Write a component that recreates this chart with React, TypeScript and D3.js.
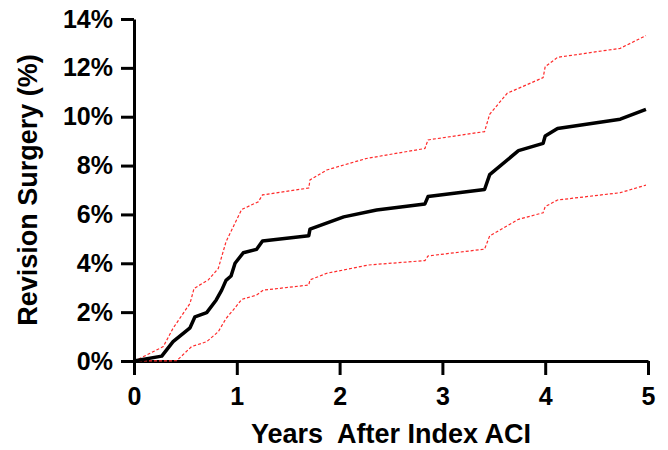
import React, { useEffect, useRef } from 'react';
import * as d3 from 'd3';

// (years, percent)
const estYears = [0, 0.27, 0.38, 0.545, 0.593, 0.707, 0.8, 0.853, 0.895, 0.944, 0.983, 1.063, 1.193, 1.25, 1.7, 1.712, 2.04, 2.36, 2.83, 2.86, 3.41, 3.46, 3.74, 3.98, 4.0, 4.12, 4.73, 4.98];
const estValues = [0, 0.2, 0.79, 1.36, 1.81, 1.98, 2.5, 2.9, 3.3, 3.48, 4.0, 4.43, 4.57, 4.91, 5.13, 5.4, 5.9, 6.18, 6.43, 6.73, 7.02, 7.63, 8.61, 8.91, 9.21, 9.52, 9.9, 10.3];

const upperYears = [0, 0.04, 0.285, 0.38, 0.545, 0.584, 0.723, 0.82, 0.895, 0.966, 1.047, 1.21, 1.25, 1.7, 1.712, 1.875, 2.26, 2.83, 2.86, 3.41, 3.46, 3.63, 3.98, 4.0, 4.12, 4.73, 4.98];
const upperValues = [0, 0.07, 0.59, 1.34, 2.36, 2.97, 3.32, 3.79, 4.88, 5.5, 6.2, 6.52, 6.8, 7.08, 7.41, 7.82, 8.29, 8.7, 9.05, 9.39, 10.1, 10.96, 11.6, 12.05, 12.43, 12.8, 13.32];

const lowerYears = [0, 0.415, 0.56, 0.707, 0.82, 0.895, 0.966, 1.047, 1.193, 1.258, 1.7, 1.712, 1.875, 2.28, 2.83, 2.86, 3.41, 3.46, 3.74, 3.98, 4.0, 4.12, 4.73, 4.98];
const lowerValues = [0, 0.01, 0.59, 0.79, 1.2, 1.74, 2.09, 2.52, 2.7, 2.9, 3.11, 3.32, 3.59, 3.93, 4.11, 4.3, 4.58, 5.12, 5.8, 6.07, 6.32, 6.59, 6.89, 7.2];

const xTicks = [0, 1, 2, 3, 4, 5];
const yTicks = [0, 2, 4, 6, 8, 10, 12, 14];

const FONT = "'Liberation Sans', Arial, sans-serif";

export default function App() {
  const ref = useRef<SVGSVGElement>(null);

  useEffect(() => {
    const svg = d3.select(ref.current);
    svg.selectAll('*').remove();

    const margin = { top: 19, right: 20, bottom: 89, left: 134 };
    const width = 668, height = 450;

    const x = d3.scaleLinear().domain([0, 5]).range([margin.left, width - margin.right]);
    const y = d3.scaleLinear().domain([0, 14]).range([height - margin.bottom, margin.top]);

    const xAxis = svg.append('g')
      .attr('transform', `translate(0, ${y(0)})`)
      .call(d3.axisBottom(x).tickValues(xTicks).tickSize(14).tickSizeOuter(0).tickPadding(12).tickFormat(d3.format('d')));
    const yAxis = svg.append('g')
      .attr('transform', `translate(${x(0)}, 0)`)
      .call(d3.axisLeft(y).tickValues(yTicks).tickSize(13).tickSizeOuter(0).tickPadding(8).tickFormat(d => d + '%'));

    [xAxis, yAxis].forEach(g => {
      g.select('.domain').attr('stroke', '#000').attr('stroke-width', 3);
      g.selectAll('.tick line').attr('stroke', '#000').attr('stroke-width', 3);
      g.selectAll('.tick text')
        .attr('fill', '#000')
        .style('font-family', FONT)
        .style('font-weight', 'bold')
        .style('font-size', '25px');
    });

    const line = d3.line<[number, number]>()
      .x(d => x(d[0]))
      .y(d => y(d[1]));

    const upper = upperYears.map((t, i) => [t, upperValues[i]] as [number, number]);
    const lower = lowerYears.map((t, i) => [t, lowerValues[i]] as [number, number]);
    const est = estYears.map((t, i) => [t, estValues[i]] as [number, number]);

    [upper, lower].forEach(pts => {
      svg.append('path')
        .attr('d', line(pts))
        .attr('fill', 'none')
        .attr('stroke', '#ff2a2a')
        .attr('stroke-width', 1.2)
        .attr('stroke-dasharray', '3,2');
    });

    svg.append('path')
      .attr('d', line(est))
      .attr('fill', 'none')
      .attr('stroke', '#000')
      .attr('stroke-width', 3.5)
      .attr('stroke-linejoin', 'round');

    svg.append('text')
      .attr('x', (x(0) + x(5)) / 2)
      .attr('y', 443)
      .attr('text-anchor', 'middle')
      .style('font-family', FONT)
      .style('font-weight', 'bold')
      .style('font-size', '27px')
      .style('white-space', 'pre')
      .text('Years  After Index ACI');

    svg.append('text')
      .attr('transform', `translate(37, ${(y(0) + y(14)) / 2}) rotate(-90)`)
      .attr('text-anchor', 'middle')
      .style('font-family', FONT)
      .style('font-weight', 'bold')
      .style('font-size', '27px')
      .text('Revision Surgery (%)');
  }, []);

  return (
    <div style={{ position: 'absolute', left: 0, top: 0 }}>
      <svg ref={ref} width={668} height={450} style={{ display: 'block', background: '#fff' }} />
    </div>
  );
}
